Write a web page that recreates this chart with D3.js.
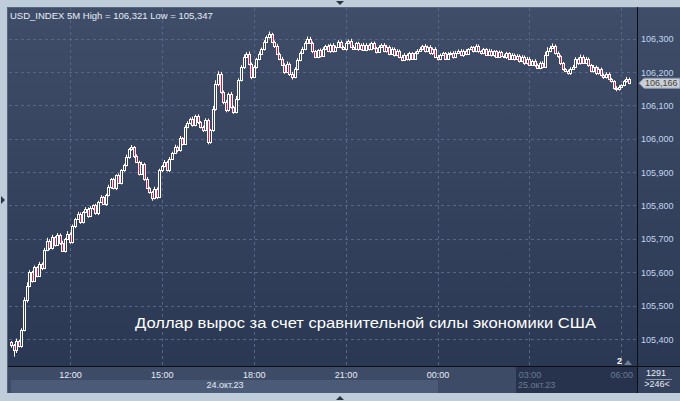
<!DOCTYPE html>
<html><head><meta charset="utf-8">
<script src="https://cdn.jsdelivr.net/npm/d3@7"></script>
<style>html,body{margin:0;padding:0;background:#bfccd9;overflow:hidden}svg{display:block}</style>
</head><body><svg id="c" width="680" height="401"></svg>
<script>
const opens=[
105.390,105.382,105.368,105.395,105.380,105.427,105.517,105.560,105.600,105.575,
105.615,105.590,105.625,105.612,105.668,105.695,105.672,105.705,105.682,105.712,
105.688,105.665,105.700,105.715,105.690,105.738,105.760,105.775,105.750,105.780,
105.790,105.768,105.792,105.800,105.776,105.810,105.825,105.805,105.830,105.855,
105.878,105.852,105.890,105.868,105.905,105.920,105.945,105.968,105.975,105.948,
105.930,105.895,105.925,105.880,105.852,105.840,105.822,105.850,105.825,105.905,
105.918,105.930,105.905,105.940,105.958,105.975,105.965,106.002,105.985,106.035,
106.048,106.060,106.040,106.068,106.050,106.035,106.025,106.055,105.990,106.025,
106.090,106.165,106.195,106.140,106.110,106.085,106.135,106.095,106.080,106.120,
106.175,106.215,106.245,106.255,106.225,106.185,106.215,106.238,106.255,106.270,
106.290,106.305,106.312,106.290,106.278,106.255,106.240,106.222,106.200,106.225,
106.195,106.185,106.210,106.235,106.258,106.270,106.288,106.300,106.288,106.262,
106.245,106.265,106.248,106.270,106.278,106.262,106.282,106.262,106.276,106.290,
106.275,106.268,106.288,106.294,106.276,106.270,106.286,106.268,106.282,106.266,
106.282,106.268,106.286,106.272,106.260,106.276,106.282,106.262,106.276,106.255,
106.270,106.250,106.264,106.246,106.236,106.252,106.238,106.256,106.240,106.256,
106.264,106.270,106.278,106.262,106.276,106.256,106.270,106.246,106.238,106.252,
106.256,106.240,106.255,106.258,106.244,106.258,106.264,106.250,106.264,106.254,
106.268,106.274,106.262,106.278,106.262,106.256,106.268,106.252,106.264,106.250,
106.262,106.246,106.260,106.248,106.244,106.256,106.240,106.252,106.238,106.248,
106.232,106.246,106.226,106.240,106.222,106.234,106.220,106.212,106.228,106.216,
106.252,106.264,106.272,106.278,106.256,106.248,106.226,106.208,106.202,106.196,
106.210,106.216,106.240,106.226,106.246,106.228,106.240,106.220,106.202,106.216,
106.196,106.210,106.190,106.184,106.195,106.178,106.172,106.152,106.148,106.156,
106.160,106.172,106.180];
const closes=[
105.382,105.368,105.395,105.380,105.427,105.517,105.560,105.600,105.575,105.615,
105.590,105.625,105.612,105.668,105.695,105.672,105.705,105.682,105.712,105.688,
105.665,105.700,105.715,105.690,105.738,105.760,105.775,105.750,105.780,105.790,
105.768,105.792,105.800,105.776,105.810,105.825,105.805,105.830,105.855,105.878,
105.852,105.890,105.868,105.905,105.920,105.945,105.968,105.975,105.948,105.930,
105.895,105.925,105.880,105.852,105.840,105.822,105.850,105.825,105.905,105.918,
105.930,105.905,105.940,105.958,105.975,105.965,106.002,105.985,106.035,106.048,
106.060,106.040,106.068,106.050,106.035,106.025,106.055,105.990,106.025,106.090,
106.165,106.195,106.140,106.110,106.085,106.135,106.095,106.080,106.120,106.175,
106.215,106.245,106.255,106.225,106.185,106.215,106.238,106.255,106.270,106.290,
106.305,106.312,106.290,106.278,106.255,106.240,106.222,106.200,106.225,106.195,
106.185,106.210,106.235,106.258,106.270,106.288,106.300,106.288,106.262,106.245,
106.265,106.248,106.270,106.278,106.262,106.282,106.262,106.276,106.290,106.275,
106.268,106.288,106.294,106.276,106.270,106.286,106.268,106.282,106.266,106.282,
106.268,106.286,106.272,106.260,106.276,106.282,106.262,106.276,106.255,106.270,
106.250,106.264,106.246,106.236,106.252,106.238,106.256,106.240,106.256,106.264,
106.270,106.278,106.262,106.276,106.256,106.270,106.246,106.238,106.252,106.256,
106.240,106.255,106.258,106.244,106.258,106.264,106.250,106.264,106.254,106.268,
106.274,106.262,106.278,106.262,106.256,106.268,106.252,106.264,106.250,106.262,
106.246,106.260,106.248,106.244,106.256,106.240,106.252,106.238,106.248,106.232,
106.246,106.226,106.240,106.222,106.234,106.220,106.212,106.228,106.216,106.252,
106.264,106.272,106.278,106.256,106.248,106.226,106.208,106.202,106.196,106.210,
106.216,106.240,106.226,106.246,106.228,106.240,106.220,106.202,106.216,106.196,
106.210,106.190,106.184,106.195,106.178,106.172,106.152,106.148,106.156,106.160,
106.172,106.180,106.166];
// upper / lower wick lengths, in thousandths of a point
const wickHi=[
4,3,6,3,5,8,10,6,4,5, 3,6,4,5,8,4,7,3,5,4, 6,3,8,4,5,3,6,4,3,5, 4,6,3,5,4,6,3,5,7,4,
5,3,6,4,5,7,4,6,3,5, 4,6,3,5,4,3,6,4,5,3, 6,4,5,3,7,4,6,3,5,4, 3,6,4,5,3,4,6,5,4,8,
10,7,5,4,6,3,5,4,8,6, 5,7,4,6,3,5,4,6,3,5, 4,9,5,4,6,3,5,4,6,3, 5,4,6,3,5,4,6,5,3,4,
3,5,4,3,5,3,4,3,5,4, 3,4,3,5,4,3,4,3,5,4, 3,4,5,3,4,3,4,5,3,4, 3,4,3,5,4,3,4,3,5,4,
4,3,5,3,4,3,4,5,3,4, 3,4,3,4,5,3,4,3,4,3, 4,3,5,4,3,4,3,5,4,3, 3,4,3,5,4,3,4,3,5,4,
4,3,5,4,3,4,5,3,4,8, 10,6,7,4,5,3,4,3,5,4, 5,4,3,6,4,5,3,4,5,3, 4,3,5,4,3,4,3,5,4,3,
4,5,3];
const wickLo=[
8,21,10,5,6,4,8,5,6,4, 5,4,6,3,5,6,4,5,3,6, 4,6,3,5,4,6,3,5,4,3, 5,3,6,4,5,3,4,6,3,5,
4,6,3,5,4,3,5,4,6,3, 5,4,6,3,5,8,4,6,3,5, 4,3,5,4,3,6,4,5,3,4, 5,4,3,6,4,5,3,7,5,4,
6,8,5,7,6,4,5,6,4,5, 4,6,3,5,7,4,5,3,4,6, 3,5,4,6,3,5,4,6,3,7, 8,4,5,3,4,5,3,4,6,3,
4,5,3,4,3,5,4,3,4,5, 3,4,5,3,4,3,5,4,3,4, 4,3,4,5,3,4,3,4,5,3, 4,3,5,4,3,4,5,3,4,3,
3,5,4,3,4,5,3,4,3,4, 4,3,5,4,3,4,3,5,4,3, 3,4,3,5,4,3,4,3,4,5, 4,3,4,3,5,4,3,4,3,4,
3,5,4,3,4,5,3,4,6,3, 4,5,3,4,6,5,4,3,4,5, 3,4,5,4,3,4,5,3,4,5, 4,3,5,4,3,4,5,6,4,3,
3,4,3];
const yTicks=[105.4,105.5,105.6,105.7,105.8,105.9,106.0,106.1,106.2,106.3];
const xTickTimes=[new Date(2023,9,24,12,0),new Date(2023,9,24,15,0),new Date(2023,9,24,18,0),
  new Date(2023,9,24,21,0),new Date(2023,9,25,0,0),new Date(2023,9,25,3,0),new Date(2023,9,25,6,0)];
const dateLabels=["24.окт.23","25.окт.23"];
const symbol="USD_INDEX", period="5M";
const title="Доллар вырос за счет сравнительной силы экономики США";
const barCount="1291", visibleBars=">246<";
const firstTime=new Date(2023,9,24,10,5), stepMin=5;

const svg=d3.select("#c");
const fmt=v=>d3.format(".3f")(v).replace(".",",");
const data=closes.map((c,i)=>{const o=opens[i];return {t:new Date(firstTime.getTime()+i*stepMin*60000),o,c,
  h:Math.max(o,c)+wickHi[i]/1000,l:Math.min(o,c)-wickLo[i]/1000};});
const x=d3.scaleTime().domain([firstTime,new Date(2023,9,25,6,15)]).range([11.2,629]);
const y=d3.scaleLinear().domain([105.4,106.3]).range([339,38.5]);

const defs=svg.append("defs");
const g1=defs.append("linearGradient").attr("id","bg").attr("x1",0).attr("y1",0).attr("x2",0).attr("y2",1);
g1.append("stop").attr("offset","0%").attr("stop-color","#3f4d69");
g1.append("stop").attr("offset","100%").attr("stop-color","#2b3853");

svg.append("rect").attr("width",680).attr("height",401).attr("fill","#bfccd9");
svg.append("rect").attr("x",8).attr("y",7).attr("width",672).attr("height",360).attr("fill","url(#bg)");
svg.append("line").attr("x1",7.5).attr("x2",7.5).attr("y1",7).attr("y2",393).attr("stroke","#56647c");
svg.append("line").attr("x1",7).attr("x2",680).attr("y1",7.5).attr("y2",7.5).attr("stroke","#56647c");

// grid
const grid=svg.append("g").attr("stroke","#56668a").attr("stroke-dasharray","3,3").attr("stroke-width",1);
grid.selectAll(".h").data(yTicks).join("line").attr("x1",9).attr("x2",637)
  .attr("y1",d=>Math.round(y(d))+0.5).attr("y2",d=>Math.round(y(d))+0.5);
grid.selectAll(".v").data(xTickTimes).join("line").attr("y1",8).attr("y2",366)
  .attr("x1",d=>Math.round(x(d))+0.5).attr("x2",d=>Math.round(x(d))+0.5);

// header
const hi=d3.max(data,d=>d.h), lo=d3.min(data,d=>d.l);
svg.append("text").attr("x",10).attr("y",19).attr("fill","#e6edf5")
  .style("font","9.5px Arial, 'Liberation Sans', sans-serif")
  .text(`${symbol} ${period} High = ${fmt(hi)} Low = ${fmt(lo)}`);

// candles
const cg=svg.append("g");
data.forEach(d=>{
  const px=Math.round(x(d.t));
  cg.append("line").attr("x1",px+0.5).attr("x2",px+0.5).attr("y1",y(d.h)).attr("y2",y(d.l))
    .attr("stroke","#ffffff").attr("stroke-width",1);
  const top=y(Math.max(d.o,d.c)), bot=y(Math.min(d.o,d.c));
  cg.append("rect").attr("x",px-0.5).attr("y",Math.round(top)+0.5).attr("width",2)
    .attr("height",Math.max(0,Math.round(bot)-Math.round(top)))
    .attr("fill",d.c<d.o?"#e0123f":"#33405c").attr("stroke","#ffffff").attr("stroke-width",1);
});

// annotation
svg.append("text").attr("x",135).attr("y",328).attr("fill","#ffffff")
  .attr("textLength",461).attr("lengthAdjust","spacingAndGlyphs")
  .style("font","15.5px Arial, 'Liberation Sans', sans-serif").text(title);

// "2" marker
svg.append("text").attr("x",617).attr("y",364).attr("fill","#ffffff")
  .style("font","bold 9px Arial, sans-serif").text("2");
svg.append("path").attr("d","M624,365 L628,360 L632,365 Z").attr("fill","#6d7b95");

// bottom strip
svg.append("rect").attr("x",8).attr("y",367).attr("width",629).attr("height",26).attr("fill","#3d4b67");
svg.append("rect").attr("x",11).attr("y",380).attr("width",427).attr("height",13).attr("fill","#4b5a77");
svg.append("rect").attr("x",516).attr("y",367).attr("width",121).attr("height",26).attr("fill","#27334c");
svg.append("rect").attr("x",638).attr("y",367).attr("width",42).attr("height",26).attr("fill","#34415c");
svg.append("rect").attr("x",0).attr("y",393).attr("width",680).attr("height",8).attr("fill","#bfccd9");

// axes
const xa=svg.append("g").attr("transform","translate(0,367)")
  .call(d3.axisBottom(x).tickValues(xTickTimes).tickFormat(d3.timeFormat("%H:%M")).tickSize(0));
xa.select(".domain").remove();
xa.selectAll("text").attr("y",11).attr("dy",0)
  .attr("fill",d=>d>new Date(2023,9,25,1,0)?"#6b7a93":"#e8eef6")
  .style("font","9px Arial, 'Liberation Sans', sans-serif");
svg.append("text").attr("x",225).attr("y",388).attr("text-anchor","middle").attr("fill","#e8eef6")
  .style("font","9px Arial, sans-serif").text(dateLabels[0]);
svg.append("text").attr("x",518).attr("y",388).attr("fill","#6b7a93")
  .style("font","9px Arial, sans-serif").text(dateLabels[1]);

const ya=svg.append("g").attr("transform","translate(641,0)")
  .call(d3.axisRight(y).tickValues(yTicks).tickFormat(fmt).tickSize(0));
ya.select(".domain").remove();
ya.selectAll("text").attr("x",0).attr("dy","0.35em").attr("fill","#c3d7ef")
  .style("font","9px Arial, 'Liberation Sans', sans-serif");

// black separators
svg.append("line").attr("x1",637.5).attr("x2",637.5).attr("y1",7).attr("y2",393).attr("stroke","#0c0f16");
svg.append("line").attr("x1",8).attr("x2",680).attr("y1",366.5).attr("y2",366.5).attr("stroke","#0c0f16");

// last price tag
const last=data[data.length-1].c, ly=y(last);
svg.append("path").attr("d",`M639,${ly} L644,${ly-5} L680,${ly-5} L680,${ly+5} L644,${ly+5} Z`)
  .attr("fill","#c8d0d9").attr("stroke","#8d99aa");
svg.append("text").attr("x",645).attr("y",ly).attr("dy","0.35em").attr("fill","#4a4030")
  .style("font","9px Arial, sans-serif").text(fmt(last));

// bottom right cell
svg.append("text").attr("x",656).attr("y",376).attr("text-anchor","middle").attr("fill","#e8eef6")
  .style("font","9px Arial, sans-serif").text(barCount);
svg.append("line").attr("x1",646).attr("x2",672).attr("y1",379.5).attr("y2",379.5).attr("stroke","#8a97ad");
svg.append("text").attr("x",657).attr("y",387).attr("text-anchor","middle").attr("fill","#e8eef6")
  .style("font","9px Arial, sans-serif").text(visibleBars);

// frame triangles
svg.append("path").attr("d","M336,1 L344,1 L340,5 Z").attr("fill","#2a3446");
svg.append("path").attr("d","M336,400 L344,400 L340,396 Z").attr("fill","#2a3446");
svg.append("path").attr("d","M1,196 L1,204 L5,200 Z").attr("fill","#2a3446");
</script></body></html>
